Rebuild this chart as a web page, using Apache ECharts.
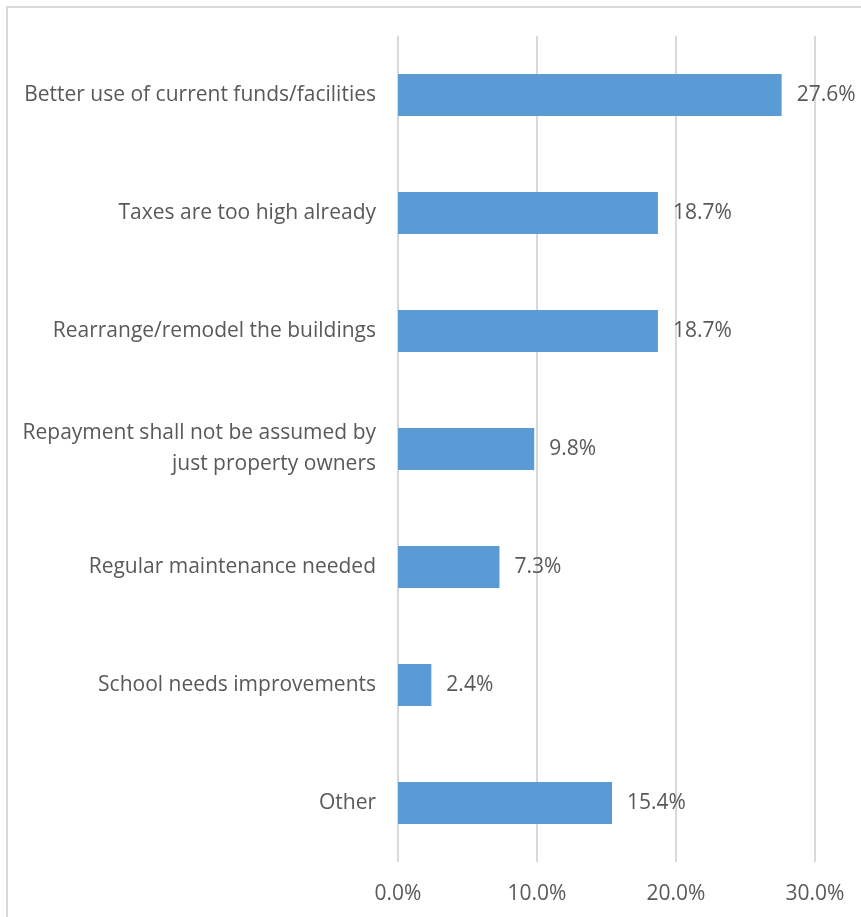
<!DOCTYPE html>
<html>
<head>
<meta charset="utf-8">
<script src="https://cdn.jsdelivr.net/npm/echarts@6/dist/echarts.min.js"></script>
<style>
    html, body { margin: 0; padding: 0; background: #fff; }
    #chart { width: 861px; height: 917px; }
</style>
</head>
<body>
<div id="chart"></div>
<script>
// categories listed top to bottom, as in the picture
const categories = [
    'Better use of current funds/facilities',
    'Taxes are too high already',
    'Rearrange/remodel the buildings',
    'Repayment shall not be assumed by\njust property owners',
    'Regular maintenance needed',
    'School needs improvements',
    'Other',
];
const percents = [27.6, 18.7, 18.7, 9.8, 7.3, 2.4, 15.4];
const xTicks = [0, 10, 20, 30];

const textColor = '#595959';
const fontFamily = '"Open Sans", "Liberation Sans", sans-serif';

const chart = echarts.init(document.getElementById('chart'));
chart.setOption({
    backgroundColor: '#fff',
    animation: false,
    graphic: [
        {
            type: 'rect',
            shape: { x: 7, y: 7, width: 900, height: 960 },
            style: { fill: 'none', stroke: '#d9d9d9', lineWidth: 2 },
        },
    ],
    grid: {
        left: 398,
        right: 46,
        top: 36,
        bottom: 55,
    },
    xAxis: {
        type: 'value',
        min: xTicks[0],
        max: xTicks[xTicks.length - 1],
        interval: 10,
        axisLine: { show: false },
        axisTick: { show: false },
        splitLine: { lineStyle: { color: '#d9d9d9', width: 2 } },
        axisLabel: {
            color: textColor,
            fontFamily,
            fontSize: 21,
            margin: 22,
            formatter: (v) => `${v.toFixed(1)}%`,
        },
    },
    yAxis: {
        type: 'category',
        inverse: true,
        data: categories,
        axisLine: { show: false },
        axisTick: { show: false },
        axisLabel: {
            color: textColor,
            fontFamily,
            fontSize: 21,
            margin: 22,
            lineHeight: 31,
            align: 'right',
        },
    },
    series: [
        {
            type: 'bar',
            data: percents,
            barWidth: 42,
            itemStyle: { color: '#5b9bd5' },
            label: {
                show: true,
                position: 'right',
                distance: 15,
                color: textColor,
                fontFamily,
                fontSize: 21,
                formatter: (p) => `${p.value.toFixed(1)}%`,
            },
        },
    ],
});
</script>
</body>
</html>
